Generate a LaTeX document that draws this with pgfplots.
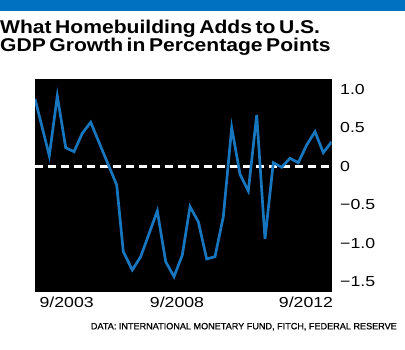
\documentclass[border=0pt]{standalone}
\usepackage{fontspec}
\setmainfont{Liberation Sans}
\newfontfamily\titlefont[FakeStretch=1.14,WordSpace=0.6]{Liberation Sans Bold}
\newfontfamily\labfont[FakeStretch=1.22]{Liberation Sans}
\newfontfamily\srcfont[FakeBold=0.8]{Liberation Sans}
\usepackage{pgfplots}
\pgfplotsset{compat=1.18}
\definecolor{bbblue}{RGB}{0,112,192}
\definecolor{lineblue}{RGB}{24,118,190}
\begin{document}
\begin{tikzpicture}[x=1bp,y=1bp]
\useasboundingbox (0,0) rectangle (405,350);
\fill[bbblue] (0,338.5) rectangle (405,350);
\node[anchor=base west,inner sep=0pt,font=\titlefont\fontsize{18.5bp}{20bp}\selectfont] at (0,316.7) {What Homebuilding Adds to U.S.};
\node[anchor=base west,inner sep=0pt,font=\titlefont\fontsize{18.5bp}{20bp}\selectfont] at (0,298.3) {GDP Growth in Percentage Points};
\begin{axis}[
  at={(35bp,58bp)}, anchor=south west,
  scale only axis, width=296.7bp, height=213bp,
  xmin=35, xmax=331.7, ymin=-1.63, ymax=1.136,
  axis line style={draw=none},
  axis background/.style={fill=black},
  major tick length=0pt,
  xtick={66.7,177,306},
  xticklabels={9/2003,9/2008,9/2012},
  ytick={-1.5,-1,-0.5,0,0.5,1},
  yticklabels={−1.5,−1.0,−0.5,0,0.5,1.0},
  ytick pos=right, yticklabel pos=right,
  xtick pos=bottom,
  tick label style={font=\labfont\fontsize{14.5bp}{16bp}\selectfont, inner sep=0pt},
  xticklabel style={anchor=north, yshift=-5bp},
  yticklabel style={anchor=west, xshift=8.3bp},
]
\addplot[white, line width=2.4bp, dash pattern=on 7.5bp off 5.5bp] coordinates {(35,0) (331.7,0)};
\addplot[lineblue, line width=2.7bp, line join=miter, mark=none] coordinates {
(35,0.877) (49.3,0.140) (57.3,0.916) (65.7,0.244) (74,0.192) (82.3,0.431) (90.7,0.574)
(116.7,-0.240) (123.3,-1.106) (132.3,-1.344) (140.7,-1.171) (157.3,-0.578) (165.7,-1.236)
(174,-1.431) (182.3,-1.150) (190,-0.522) (198.3,-0.717) (206.7,-1.201) (215,-1.171)
(223.3,-0.652) (231.7,0.504) (240,-0.101) (248.3,-0.318) (256.7,0.669) (265,-0.942)
(273.3,0.049) (281.7,-0.010) (290,0.106) (298.3,0.049) (306.7,0.279) (315,0.452)
(323.3,0.179) (331.7,0.322)
};
\end{axis}
\node[anchor=base east,inner sep=0pt,font=\srcfont\fontsize{9.1bp}{10bp}\selectfont] at (397,20.7) {DATA: INTERNATIONAL MONETARY FUND, FITCH, FEDERAL RESERVE};
\end{tikzpicture}
\end{document}
